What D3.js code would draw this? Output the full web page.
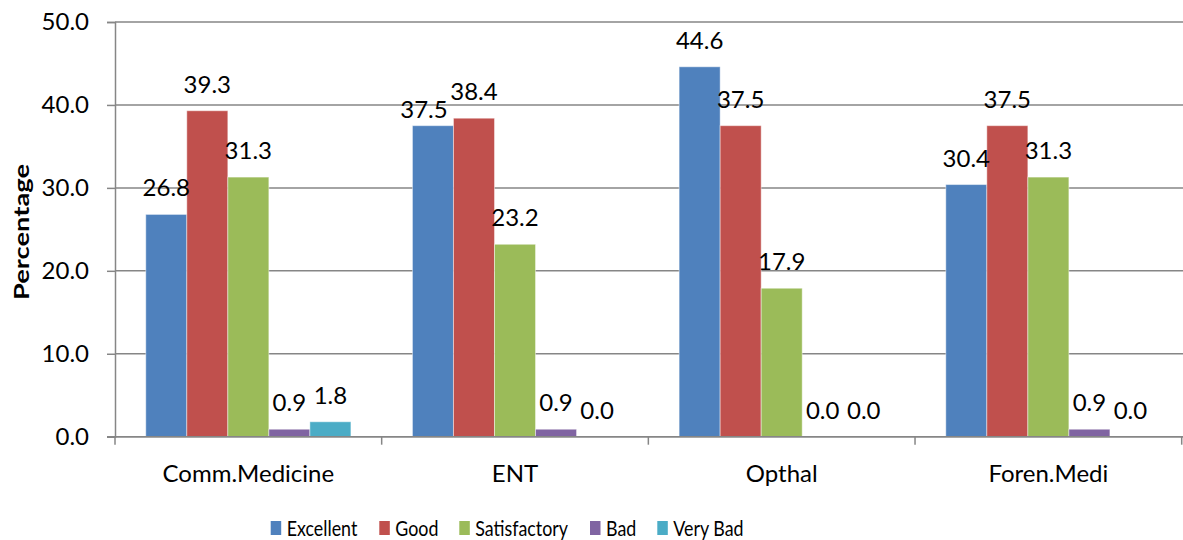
<!DOCTYPE html>
<html>
<head>
<meta charset="utf-8">
<script src="https://cdn.jsdelivr.net/npm/d3@7"></script>
<style>
  html, body { margin: 0; padding: 0; background: #fff; }
  svg { display: block; }
  text { font-family: Lato, "Open Sans", sans-serif; fill: #000; }
</style>
</head>
<body>
<svg id="chart" width="1183" height="540"></svg>
<script>
// ---- data ----
const categories = ["Comm.Medicine", "ENT", "Opthal", "Foren.Medi"];
const seriesNames = ["Excellent", "Good", "Satisfactory", "Bad", "Very Bad"];
const excellent    = [26.8, 37.5, 44.6, 30.4];
const good         = [39.3, 38.4, 37.5, 37.5];
const satisfactory = [31.3, 23.2, 17.9, 31.3];
const bad          = [0.9, 0.9, 0.0, 0.9];
const veryBad      = [1.8, 0.0, 0.0, 0.0];
const yTicks = [0, 10, 20, 30, 40, 50];
const colors = ["#4F81BD", "#C0504D", "#9BBB59", "#8064A2", "#4BACC6"];

const seriesValues = [excellent, good, satisfactory, bad, veryBad];
const rows = [];
categories.forEach((c, ci) => {
  seriesNames.forEach((s, si) => {
    rows.push({ category: c, series: s, value: seriesValues[si][ci], si });
  });
});

// label collision nudge (as placed in the original)
const labelNudge = { "ENT|Excellent": [-9, 10] };

// ---- layout ----
const svg = d3.select("#chart");
const mLeft = 115, mRight = 1181.7, mTop = 22, mBottom = 436.7;

const x = d3.scaleBand().domain(categories).range([mLeft, mRight]).paddingInner(0).paddingOuter(0);
const xs = d3.scaleBand().domain(seriesNames).range([0, x.bandwidth()]).paddingInner(0).paddingOuter(0.75);
const y = d3.scaleLinear().domain([0, 50]).range([mBottom, mTop]);

const gridColor = "#868686";

// gridlines
svg.append("g").selectAll("line").data(yTicks).join("line")
  .attr("x1", mLeft).attr("x2", mRight + 1.3)
  .attr("y1", d => y(d)).attr("y2", d => y(d))
  .attr("stroke", gridColor).attr("stroke-width", 1.5);

// y axis
const yAxis = d3.axisLeft(y).tickValues(yTicks).tickFormat(d3.format(".1f")).tickSize(8).tickPadding(18);
const gy = svg.append("g").attr("transform", `translate(${mLeft},0)`).call(yAxis);
gy.select(".domain").attr("stroke", gridColor).attr("stroke-width", 1.5);
gy.selectAll(".tick line").attr("stroke", gridColor).attr("stroke-width", 1.5);
gy.selectAll(".tick text").style("font-size", "24px").style("font-family", "Lato, sans-serif").attr("fill", "#000");

// bars
svg.append("g").selectAll("rect").data(rows).join("rect")
  .attr("x", d => x(d.category) + xs(d.series))
  .attr("width", xs.bandwidth())
  .attr("y", d => y(d.value))
  .attr("height", d => y(0) - y(d.value))
  .attr("fill", d => colors[d.si])
  .attr("stroke", "#ffffff").attr("stroke-opacity", 0.45).attr("stroke-width", 1);

// x axis (category ticks at boundaries)
const xAxis = d3.axisBottom(x).tickSize(0).tickPadding(28);
const gx = svg.append("g").attr("transform", `translate(0,${mBottom})`).call(xAxis);
gx.select(".domain").remove();
gx.selectAll(".tick text").style("font-size", "24px").style("font-family", "Lato, sans-serif").attr("fill", "#000");
const boundaries = categories.map(c => x(c)).concat([x(categories[categories.length - 1]) + x.bandwidth()]);
svg.append("line").attr("x1", mLeft - 8).attr("x2", mRight + 1.3).attr("y1", mBottom).attr("y2", mBottom)
  .attr("stroke", gridColor).attr("stroke-width", 1.5);
svg.append("g").selectAll("line").data(boundaries).join("line")
  .attr("x1", d => d).attr("x2", d => d)
  .attr("y1", mBottom).attr("y2", mBottom + 8)
  .attr("stroke", gridColor).attr("stroke-width", 1.5);

// data labels
svg.append("g").selectAll("text").data(rows).join("text")
  .attr("x", d => x(d.category) + xs(d.series) + xs.bandwidth() / 2 + ((labelNudge[d.category + "|" + d.series] || [0, 0])[0]))
  .attr("y", d => y(d.value) - 18 + ((labelNudge[d.category + "|" + d.series] || [0, 0])[1]))
  .attr("text-anchor", "middle")
  .style("font-size", "24px")
  .text(d => d3.format(".1f")(d.value));

// y-axis title
svg.append("text")
  .attr("transform", `translate(29,232) rotate(-90) scale(1.3,1)`)
  .attr("text-anchor", "middle")
  .style("font-size", "21px").style("font-weight", "bold")
  .text("Percentage");

// legend
const legendX = [270.7, 379.3, 459.3, 590, 657.3];
const lg = svg.append("g").selectAll("g").data(seriesNames).join("g")
  .attr("transform", (d, i) => `translate(${legendX[i]},521)`);
lg.append("rect").attr("width", 10.5).attr("height", 14).attr("fill", (d, i) => colors[i]);
lg.append("text").attr("transform", "translate(16,15) scale(0.85,1)").style("font-size", "21px").text(d => d);
</script>
</body>
</html>
